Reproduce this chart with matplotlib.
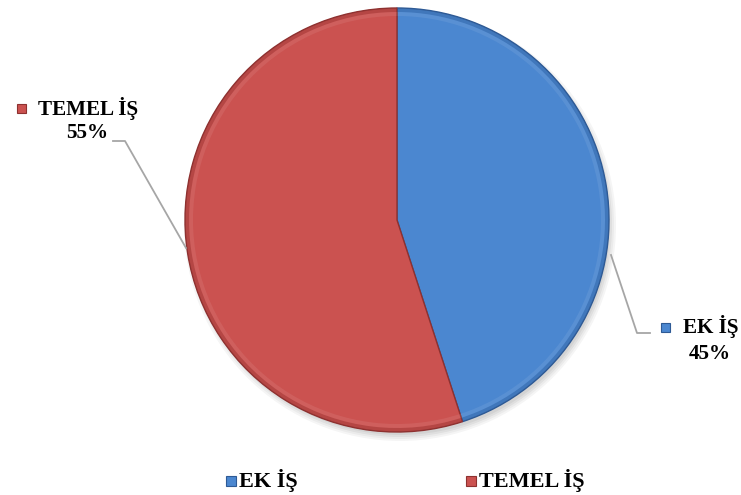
import matplotlib.pyplot as plt
from matplotlib.patches import Wedge, Rectangle, Circle

labels = ['EK İŞ', 'TEMEL İŞ']
values = [45, 55]
colors = ['#4b87d0', '#cb5250']
edges = ['#2e5a95', '#8e3130']

plt.rcParams['font.family'] = 'Liberation Serif'
plt.rcParams['font.weight'] = 'bold'

fig = plt.figure(figsize=(7.41, 4.95), dpi=100)
ax = fig.add_axes([0, 0, 1, 1])

cx, cy, r = 397, 275, 212

# soft shadow under the pie
for i, a in enumerate([0.04, 0.04, 0.05, 0.05]):
    ax.add_patch(Circle((cx + 3, cy - 5), r + 4 - i * 2, color='black', alpha=a, lw=0))

wedges, _ = ax.pie(values, colors=colors, startangle=90, counterclock=False,
                   center=(cx, cy), radius=r, frame=True,
                   wedgeprops=dict(linewidth=0))
ax.set_xlim(0, 741)
ax.set_ylim(0, 495)
ax.set_aspect('equal')
ax.axis('off')

# bevel: darker rim with lighter inner band
for w, c, e in zip(wedges, colors, edges):
    ax.add_patch(Wedge((cx, cy), r, w.theta1, w.theta2, width=4, color=e, alpha=0.35, lw=0))
    ax.add_patch(Wedge((cx, cy), r - 4, w.theta1, w.theta2, width=4, color='white', alpha=0.08, lw=0))
    w.set_edgecolor(e)
    w.set_linewidth(1.0)

fs = 15.2

# data labels with leader lines
ax.plot([113, 125, 186], [495 - 141, 495 - 141, 495 - 248], color='#a6a6a6', lw=1.3)
ax.plot([611, 637, 650], [495 - 255, 495 - 333, 495 - 333], color='#a6a6a6', lw=1.3)

ax.add_patch(Rectangle((17, 495 - 113), 9, 9, facecolor=colors[1], edgecolor=edges[1], lw=0.8))
ax.text(38, 495 - 108, labels[1], fontsize=fs, va='center', ha='left')
ax.text(108, 495 - 133, '%d%%' % values[1], fontsize=fs, va='center', ha='right')

ax.add_patch(Rectangle((661, 495 - 332), 9, 9, facecolor=colors[0], edgecolor=edges[0], lw=0.8))
ax.text(683, 495 - 327, labels[0], fontsize=fs, va='center', ha='left')
ax.text(710, 495 - 354, '%d%%' % values[0], fontsize=fs, va='center', ha='center')

# legend along the bottom
for x, lab, c, e in [(226, labels[0], colors[0], edges[0]), (466, labels[1], colors[1], edges[1])]:
    ax.add_patch(Rectangle((x, 495 - 486), 10, 10, facecolor=c, edgecolor=e, lw=0.8))
    ax.text(x + 13, 495 - 481, lab, fontsize=fs + 0.8, va='center', ha='left')

fig.savefig('out.png', dpi=100)
